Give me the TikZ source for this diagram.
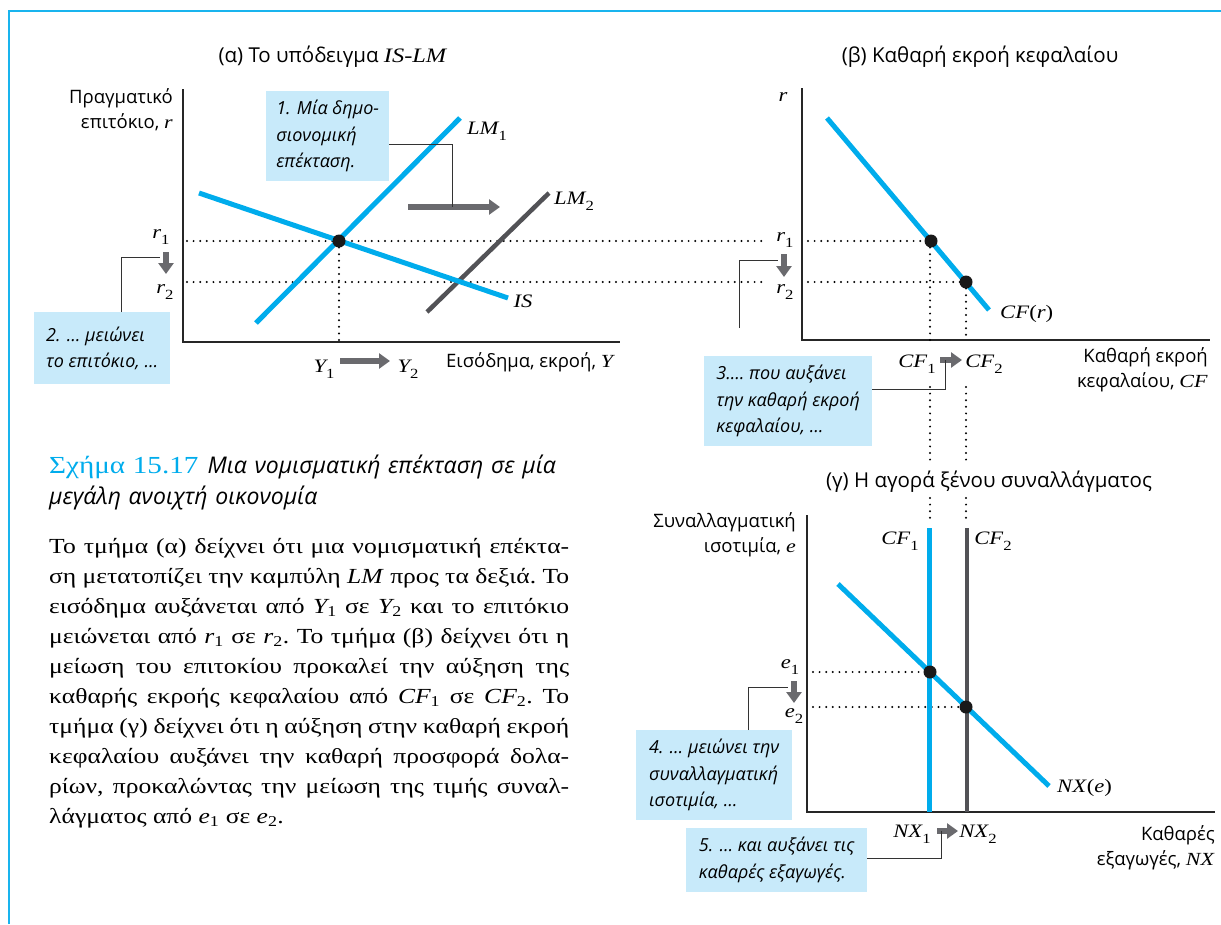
\documentclass[tikz,border=0pt]{standalone}
\usepackage{fontspec}
\setmainfont{Liberation Serif}[FakeStretch=1.19]
\setsansfont{Open Sans}
\usepackage{tikz}
\usetikzlibrary{positioning, arrows.meta}
\usepackage{xcolor}

\definecolor{cfblue}{RGB}{0,172,236}
\definecolor{notefill}{RGB}{200,234,250}
\definecolor{lmgray}{RGB}{82,82,86}
\definecolor{shiftgray}{RGB}{106,106,110}

% variable with an upright subscript
\newcommand{\varsub}[2]{{\rmfamily\itshape #1}\textsubscript{\rmfamily\upshape #2}}
% same, for the labels in the panels (lower, smaller index)
\newcommand{\labsub}[2]{{\itshape #1}\raisebox{-6pt}{\upshape\fontsize{14}{14}\selectfont #2}}

\tikzset{
    axis/.style={line width=1.8pt, black!85},
    curve/.style={line width=5pt, cfblue},
    shifted/.style={line width=4.5pt, lmgray},
    guide/.style={line width=2.2pt, line cap=round, dash pattern=on 0pt off 6.6pt},
    eqdot/.style={circle, fill=black!90, inner sep=0pt, minimum size=13pt},
    note/.style={fill=notefill, anchor=north west, align=left, inner sep=9pt,
        font=\sffamily\itshape\fontsize{18}{26.5}\selectfont},
    leader/.style={line width=0.9pt, black!80},
    push/.style={line width=5.5pt, shiftgray, -{Triangle[length=11pt,width=15pt]}},
    lab/.style={inner sep=0pt, font=\rmfamily\fontsize{19}{20}\selectfont},
    axlab/.style={inner sep=0pt, align=right, font=\sffamily\fontsize{18.5}{25}\selectfont},
    paneltitle/.style={inner sep=0pt, font=\sffamily\fontsize{20.5}{22}\selectfont},
}

\begin{document}
\begin{tikzpicture}[x=1pt, y=-1pt]
    \useasboundingbox (0,0) rectangle (1221,924);

    % Frame
    \draw[line width=2.5pt, cfblue!90] (9,924) -- (9,11) -- (1221,11);

    % ---------- (a) IS-LM ----------
    \node[paneltitle] (titleA) at (333,57) {(α) Το υπόδειγμα \textit{\rmfamily IS-LM}};
    \draw[axis] (183,89) -- (183,342) -- (620,342);
    \node[axlab, anchor=east] (ylabA) at (173,110) {Πραγματικό\\επιτόκιο, \textit{\rmfamily r}};
    \node[axlab, anchor=west] (xlabA) at (446,362) {Εισόδημα, εκροή, \textit{\rmfamily Y}};

    % Guides
    \draw[guide] (187,241) -- (764,241);
    \draw[guide] (187,282) -- (764,282);
    \draw[guide] (339,241) -- (339,342);

    % Curves
    \draw[shifted] (427,312) -- (549,193);
    \draw[curve] (199,193) -- (508,298);
    \draw[curve] (256,323) -- (460,118);
    \node[eqdot] (EA) at (339,241) {};

    \node[lab] (LMa) at (487,131) {\labsub{LM}{1}};
    \node[lab] (LMb) at (574,201) {\labsub{LM}{2}};
    \node[lab] (ISl) at (523,301) {\textit{IS}};
    \node[lab] (rA1) at (161,237) {\labsub{r}{1}};
    \node[lab] (rA2) at (165,292) {\labsub{r}{2}};
    \node[lab] (Y1) at (324,369) {\labsub{Y}{1}};
    \node[lab] (Y2) at (408,369) {\labsub{Y}{2}};

    % Shifts
    \coordinate (LMfrom) at (408,207);
    \coordinate (LMto) at (500,207);
    \coordinate (LMmid) at (452,207);
    \draw[push] (LMfrom) -- (LMto);
    \draw[push] (340,361) -- (390,361);
    \coordinate (rAtop) at (166,252);
    \draw[push] (rAtop) -- (166,274);

    % Notes
    \node[note, minimum width=123pt, minimum height=89pt] (note1) at (266,91)
        {1. Μία δημο-\\σιονομική\\επέκταση.};
    \node[note, minimum width=136pt, minimum height=72pt] (note2) at (34,312)
        {2. … μειώνει\\το επιτόκιο, …};
    \draw[leader] ([yshift=-8.5pt]note1.east) -| (LMmid);
    \draw[leader] ([xshift=19pt]note2.north) |- ([xshift=-6pt]rAtop |- 0,257);

    % ---------- (b) capital outflow ----------
    \node[paneltitle] (titleB) at (980,57) {(β) Καθαρή εκροή κεφαλαίου};
    \draw[axis] (802,88) -- (802,340) -- (1210,340);
    \node[lab] (rB) at (783,97) {\textit{r}};
    \node[axlab, anchor=east] (xlabB) at (1208,370) {Καθαρή εκροή\\κεφαλαίου, \textit{\rmfamily CF}};

    \draw[guide] (808,241) -- (930,241);
    \draw[guide] (808,282) -- (966,282);
    \draw[guide] (930,241) -- (930,340);
    \draw[guide] (966,282) -- (966,340);
    \draw[guide] (930,387) -- (930,463);
    \draw[guide] (966,387) -- (966,463);

    \draw[curve] (827,118) -- (989,310);
    \node[eqdot] (EB1) at (931,241) {};
    \node[eqdot] (EB2) at (966,282) {};

    \node[lab] (rB1) at (785,240) {\labsub{r}{1}};
    \node[lab] (rB2) at (785,292) {\labsub{r}{2}};
    \node[lab, anchor=west] (CFr) at (1000,314) {\textit{CF}(\textit{r})};
    \node[lab] (CF1) at (917,364) {\labsub{CF}{1}};
    \node[lab] (CF2) at (984,364) {\labsub{CF}{2}};

    \coordinate (rBtop) at (784,254);
    \draw[push] (rBtop) -- (784,277);
    \coordinate (CFfrom) at (940,360);
    \draw[push] (CFfrom) -- (962,360);

    \node[note, minimum width=168pt, minimum height=86pt] (note3) at (704,356)
        {3.… που αυξάνει\\την καθαρή εκροή\\κεφαλαίου, …};
    \draw[leader] (739,328) |- ([xshift=-6pt]rBtop |- 0,260);
    \draw[leader] ([yshift=12pt]note3.east) -| ([xshift=5pt]CFfrom);

    % ---------- (c) foreign exchange ----------
    \node[paneltitle] (titleC) at (989,482) {(γ) Η αγορά ξένου συναλλάγματος};
    \draw[axis] (807,515) -- (807,812) -- (1215,812);
    \node[axlab, anchor=east] (ylabC) at (796,535) {Συναλλαγματική\\ισοτιμία, \textit{\rmfamily e}};
    \node[axlab, anchor=east] (xlabC) at (1215,848) {Καθαρές\\εξαγωγές, \textit{\rmfamily NX}};

    \draw[guide] (930,498) -- (930,518);
    \draw[guide] (966,498) -- (966,518);
    \draw[guide] (813,672) -- (930,672);
    \draw[guide] (813,707) -- (966,707);

    \draw[curve] (929,528) -- (929,812);
    \draw[shifted] (967,528) -- (967,812);
    \draw[curve] (838,584) -- (1049,786);
    \node[eqdot] (EC1) at (930,672) {};
    \node[eqdot] (EC2) at (966,707) {};

    \node[lab] (CFc1) at (900,541) {\labsub{CF}{1}};
    \node[lab] (CFc2) at (993,541) {\labsub{CF}{2}};
    \node[lab] (e1) at (790,667) {\labsub{e}{1}};
    \node[lab] (e2) at (794,716) {\labsub{e}{2}};
    \node[lab, anchor=west] (NXe) at (1057,788) {\textit{NX}(\textit{e})};
    \node[lab] (NX1) at (912,834) {\labsub{NX}{1}};
    \node[lab] (NX2) at (978,834) {\labsub{NX}{2}};

    \coordinate (eTop) at (794,681);
    \draw[push] (eTop) -- (794,703);
    \coordinate (NXfrom) at (937,831);
    \draw[push] (NXfrom) -- (958,831);

    \node[note, minimum width=156pt, minimum height=89pt] (note4) at (636,730)
        {4. … μειώνει την\\συναλλαγματική\\ισοτιμία, …};
    \node[note, minimum width=181pt, minimum height=60pt] (note5) at (686,828)
        {5. … και αυξάνει τις\\καθαρές εξαγωγές.};
    \draw[leader] ([xshift=34pt]note4.north) |- ([xshift=-6pt]eTop |- 0,687);
    \draw[leader] ([yshift=1pt]note5.east) -| ([xshift=4pt]NXfrom);

    % ---------- caption ----------
    \node[anchor=north west, inner sep=0pt, text width=520pt, align=left,
        font=\sffamily\itshape\fontsize{23}{31}\selectfont] (caption) at (49,455)
        {{\rmfamily\upshape\color{cfblue}\fontsize{24.5}{31}\selectfont Σχήμα 15.17}\hspace{9pt}Μια νομισματική επέκταση σε μία\\μεγάλη ανοιχτή οικονομία};
    \node[below=28pt of caption.south west, anchor=north west, inner sep=0pt,
        text width=520pt, align=justify, font=\rmfamily\fontsize{21.5}{30}\selectfont\frenchspacing] (body)
        {Το τμήμα (α) δείχνει ότι μια νομισματική επέκτα-\linebreak
        ση μετατοπίζει την καμπύλη \textit{LM} προς τα δεξιά. Το\linebreak
        εισόδημα αυξάνεται από \varsub{Y}{1} σε \varsub{Y}{2} και το επιτόκιο\linebreak
        μειώνεται από \varsub{r}{1} σε \varsub{r}{2}. Το τμήμα (β) δείχνει ότι η\linebreak
        μείωση του επιτοκίου προκαλεί την αύξηση της\linebreak
        καθαρής εκροής κεφαλαίου από \varsub{CF}{1} σε \varsub{CF}{2}. Το\linebreak
        τμήμα (γ) δείχνει ότι η αύξηση στην καθαρή εκροή\linebreak
        κεφαλαίου αυξάνει την καθαρή προσφορά δολα-\linebreak
        ρίων, προκαλώντας την μείωση της τιμής συναλ-\linebreak
        λάγματος από \varsub{e}{1} σε \varsub{e}{2}.};
\end{tikzpicture}
\end{document}
